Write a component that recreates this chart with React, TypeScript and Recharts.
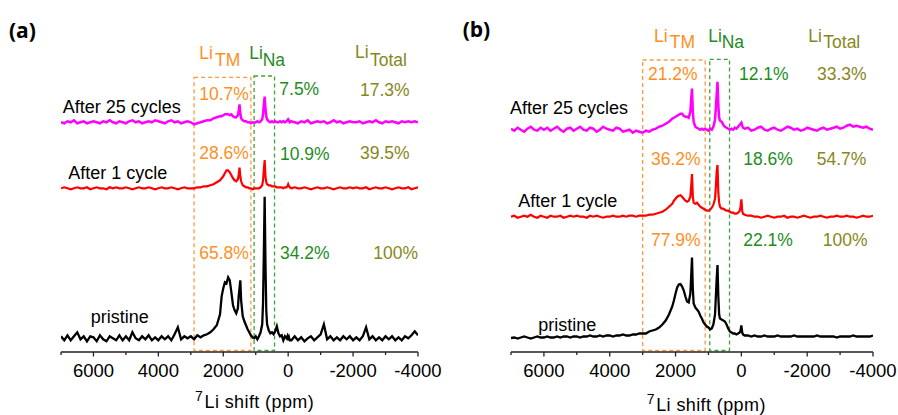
import React from 'react';
import { LineChart, Line, XAxis, YAxis, ReferenceArea } from 'recharts';

// chemical shift grid (ppm)
const PPM = [
  7000, 6900, 6800, 6700, 6600, 6500, 6400, 6300, 6200, 6100,
  6000, 5900, 5800, 5700, 5600, 5500, 5400, 5300, 5200, 5100,
  5000, 4900, 4800, 4700, 4600, 4500, 4400, 4300, 4200, 4100,
  4000, 3900, 3800, 3700, 3600, 3500, 3400, 3300, 3200, 3100,
  3000, 2900, 2800, 2700, 2600, 2500, 2400, 2300, 2200, 2100,
  2050, 2000, 1950, 1900, 1850, 1800, 1750, 1700, 1650, 1600,
  1550, 1525, 1500, 1475, 1450, 1400, 1350, 1300, 1250, 1200,
  1150, 1100, 1050, 1000, 950, 900, 850, 800, 775, 750,
  725, 700, 675, 650, 600, 550, 500, 450, 400, 350,
  300, 250, 200, 150, 100, 50, 25, 0, -25, -50,
  -100, -200, -300, -400, -500, -600, -700, -800, -900, -1000,
  -1100, -1200, -1300, -1400, -1500, -1600, -1700, -1800, -1900, -2000,
  -2100, -2200, -2300, -2400, -2500, -2600, -2700, -2800, -2900, -3000,
  -3100, -3200, -3300, -3400, -3500, -3600, -3700, -3800, -3900, -4000,
];

// ---- panel (a) intensities (arb. units) ----
const A_CYCLE25 = [
  0, -1, 1, 0, 2, -1, 0, 1, -1, 0,
  1, 0, -1, 1, 0, 2, 0, -1, 1, 0,
  -1, 1, 2, 0, 1, -1, 0, 1, 0, 2,
  1, 0, -1, 1, 2, 0, 1, -1, 0, 1,
  0, -2, -1, 0, 1, 2, 2, 4, 5, 6,
  6, 7, 8, 8, 8, 7, 8, 6, 5, 5,
  7, 11, 18, 9, 4, 2, 1, 1, 0, 0,
  -1, 0, -0.5, 0, 1, 0, 1, 3, 8, 18,
  25.6, 14, 6, 3, 1, 0, 1, 0, 1, 0,
  0, 1, 0, 1, 0, 1, 2, 3, 2, 0,
  1, 0, -1, 1, 0, 2, -1, 0, 1, 0,
  1, -1, 0, 2, 0, 1, -1, 0, 1, 0,
  0, 1, -1, 0, 1, 0, 2, 0, -1, 1,
  0, 1, 0, -1, 1, 0, 1, 0, 1, 0,
];
const A_CYCLE1 = [
  0, 1, 0, -1, 0, 1, 0, 0, 1, -1,
  0, 1, 0, 0, -1, 1, 0, 1, 0, 0,
  1, 0, -1, 0, 1, 0, 0, 1, 0, -1,
  0, 1, 0, 0, 1, 0, -1, 0, 1, 0,
  0, 0, 1, 1, 2, 2, 3, 4, 6, 8,
  10, 12, 15, 18, 18, 16, 13, 10, 8, 7,
  9, 13, 20.6, 12, 7, 3, 2, 1, 1, 0,
  0, -1, 0, 0, 0, 0, 1, 3, 8, 18,
  28.3, 12, 6, 4, 3, 3, 2, 2, 2, 1,
  1, 1, 1, 0, 1, 1, 2, 4, 2, 1,
  0, 1, 0, 0, 1, 0, -1, 0, 1, 0,
  0, 1, 0, -1, 0, 1, 0, 0, 1, 0,
  1, 0, 0, 1, -1, 0, 1, 0, 0, 1,
  0, -1, 0, 1, 0, 0, 1, -1, 0, 1,
];
const A_PRISTINE = [
  2, -2, 3, -2, 2, 6, -1, 2, -3, 2,
  1, -3, 3, -1, -3, 2, 0, -2, 3, -2,
  2, -2, 6, 0, -2, 2, -1, 3, -2, 1,
  -2, 2, -1, 2, -2, 4, 11, -1, 2, 0,
  2, -1, 3, 1, 3, 4, 6, 9, 13, 24,
  42, 50, 56, 55, 61, 58, 46, 33, 28, 25,
  30, 42, 50, 58, 38, 22, 17, 13, 9, 6,
  3, 1, 0, 2, -1, 2, 6, 14, 35, 85,
  141.6, 75, 28, 14, 8, 5, 6, 4, 7, 12,
  5, 2, 3, -2, 2, 0, 2, -2, 1, -2,
  -2, 2, -2, 1, -3, 0, 2, -2, 1, 4,
  14, -1, 2, -2, 1, -2, 2, -1, 2, -2,
  1, -2, 2, 11, -1, 2, -2, 1, -2, 2,
  -1, 2, -2, 1, -2, 2, 0, 3, 7, 3,
];

// ---- panel (b) intensities (arb. units) ----
const B_CYCLE25 = [
  1, -1, 2, 0, -2, 1, 3, 0, -1, 2,
  0, 2, -1, 1, 3, 0, -2, 1, 2, -1,
  1, 3, 0, -1, 2, 1, -2, 0, 3, 1,
  0, -1, 2, 1, -2, -1, 0, -3, -1, -2,
  -3, -1, -2, 0, 1, 3, 4, 6, 8, 11,
  12, 13, 14, 15, 16, 16, 14, 13, 13, 12,
  18, 30, 41.2, 18, 8, 3, 2, 1, 0, 1,
  0, 1, 0, -1, 1, 0, 3, 10, 22, 35,
  47.8, 24, 12, 9, 8, 5, 3, 2, 1, 0,
  1, 0, 2, 1, 3, 5, 6, 7, 4, 2,
  1, 2, -1, 0, 2, 3, 0, -1, 1, 2,
  0, -1, 1, 3, 2, 0, 1, -1, 0, 2,
  1, 0, -1, 1, 2, 0, 1, 2, 3, 1,
  2, 4, 5, 3, 4, 3, 2, 3, 1, 0,
];
const B_CYCLE1 = [
  0, 1, -1, 0, 1, 0, 2, 0, -1, 1,
  0, -1, 1, 0, 0, 1, -1, 0, 1, 0,
  1, 0, 0, -1, 1, 0, 1, 0, -1, 0,
  0, 1, 0, 0, 1, 0, 1, 1, 0, 1,
  1, 1, 2, 2, 3, 4, 5, 7, 10, 13,
  16, 18, 20, 21, 21.5, 20, 18, 16, 15, 16,
  20, 30, 42.7, 20, 14, 13, 14, 12, 10, 9,
  8, 7, 6, 6, 7, 9, 12, 18, 30, 45,
  51.7, 24, 14, 10, 8, 8, 7, 6, 6, 5,
  4, 4, 3, 3, 4, 6, 10, 17.4, 6, 3,
  2, 1, 1, 0, 0, -1, 0, 1, 0, -1,
  0, 0, 1, -1, 0, 0, -1, 0, 1, 0,
  -1, 0, 0, 1, 0, -1, 0, 0, 1, 0,
  0, 1, 0, 0, -1, 0, 1, 0, 0, 1,
];
const B_PRISTINE = [
  -1.5, -1, -2, -1, 0, -1, -2, -1, 0, -1,
  -1, 0, -1, -1, 0, -1, 0, 0, -1, 0,
  0, -1, 0, 0, 1, 0, 0, 1, 0, 1,
  1, 0, 1, 1, 2, 1, 1, 2, 2, 3,
  3, 3, 5, 6, 7, 9, 12, 16, 22, 30,
  36, 43, 49, 52, 52.5, 50, 46, 40, 35, 34,
  43, 60, 79, 48, 33, 29, 27, 25, 21, 18,
  14, 12, 10, 9, 7, 8, 12, 22, 40, 58,
  71.5, 40, 22, 18, 17, 16, 15, 12, 8, 5,
  4, 3, 3, 2, 3, 4, 6, 11, 4, 2,
  1, 1, 0, 1, 0, 0, 1, 0, 0, 0,
  1, 0, 0, 0, 0, 1, 0, 0, 0, 0,
  0, 0, 1, 0, 0, 0, 0, 0, -1, 0,
  0, 0, 0, 1, 0, 0, 0, 0, 0, 1,
];

// stacking offsets (arb. units)
const A_OFFSETS = { c25: 229.7, c1: 163.7, pr: 13.7 };
const B_OFFSETS = { c25: 222.3, c1: 135.3, pr: 15.5 };

// integration windows (ppm)
const A_TM = [2900, 1150];
const A_NA = [1050, 420];
const B_TM = [3000, 1100];
const B_NA = [960, 360];

const TICKS = [7000, 6000, 5000, 4000, 3000, 2000, 1000, 0, -1000, -2000, -3000, -4000];

const ORANGE = '#FF8F24';
const ORANGE_BOX = '#FF9A3C';
const GREEN = '#1E8C1E';
const GREEN_BOX = '#3DA23D';
const OLIVE = '#878720';
const FONT = '"Liberation Sans", Arial, sans-serif';

const build = (vals: number[], off: number) => PPM.map((p, i) => ({ ppm: p, v: vals[i] + off }));

const Tick = (props: any) => {
  const { x, y, payload } = props;
  const v = payload.value;
  const major = v % 2000 === 0;
  return (
    <g>
      <line x1={x} x2={x} y1={y} y2={y + (major ? 4.5 : 3)} stroke="#222" strokeWidth={1.3} />
      {major && (
        <text x={x} y={y + 24.5} textAnchor="middle" fontFamily={FONT} fontSize={18.5} fill="#000">
          {v}
        </text>
      )}
    </g>
  );
};

const Panel = ({ c25, c1, pr, off, tm, na, width, rightMargin }: any) => (
  <LineChart width={width} height={415} margin={{ top: 52, right: rightMargin, left: 61, bottom: 0 }}>
    <XAxis
      dataKey="ppm"
      type="number"
      domain={[-4000, 7000]}
      reversed
      ticks={TICKS}
      interval={0}
      tick={<Tick />}
      tickLine={false}
      tickSize={0}
      tickMargin={0}
      height={63}
      axisLine={{ stroke: '#222', strokeWidth: 1.6 }}
      allowDataOverflow
    />
    <YAxis hide type="number" domain={[0, 300]} allowDataOverflow />
    <ReferenceArea x1={tm[0]} x2={tm[1]} y1={1.5} y2={tm[2]} fill="none" stroke={ORANGE_BOX} strokeWidth={1.3} strokeDasharray="4 3" />
    <ReferenceArea x1={na[0]} x2={na[1]} y1={1.5} y2={na[2]} fill="none" stroke={GREEN_BOX} strokeWidth={1.3} strokeDasharray="4 3" />
    <Line data={build(pr, off.pr)} dataKey="v" type="linear" dot={false} stroke="#000" strokeWidth={2.3} isAnimationActive={false} />
    <Line data={build(c1, off.c1)} dataKey="v" type="linear" dot={false} stroke="#FF0000" strokeWidth={2.2} isAnimationActive={false} />
    <Line data={build(c25, off.c25)} dataKey="v" type="linear" dot={false} stroke="#FF00FF" strokeWidth={2.5} isAnimationActive={false} />
  </LineChart>
);

const T = ({ x, y, c = '#000', s = 17.5, f = FONT, w = 'normal', ls = 0, children }: any) => (
  <text x={x} y={y} fill={c} fontSize={s} fontFamily={f} fontWeight={w} letterSpacing={ls}>{children}</text>
);

export default function App() {
  return (
    <div style={{ position: 'absolute', left: 0, top: 0, width: 898, height: 415, background: '#fff', overflow: 'hidden' }}>
      <div style={{ position: 'absolute', left: 0, top: 0 }}>
        <Panel c25={A_CYCLE25} c1={A_CYCLE1} pr={A_PRISTINE} off={A_OFFSETS}
          tm={[A_TM[0], A_TM[1], 274.7]} na={[A_NA[0], A_NA[1], 276]} width={450} rightMargin={32} />
      </div>
      <div style={{ position: 'absolute', left: 450, top: 0 }}>
        <Panel c25={B_CYCLE25} c1={B_CYCLE1} pr={B_PRISTINE} off={B_OFFSETS}
          tm={[B_TM[0], B_TM[1], 292]} na={[B_NA[0], B_NA[1], 292.7]} width={448} rightMargin={25} />
      </div>
      <svg width={898} height={415} style={{ position: 'absolute', left: 0, top: 0, pointerEvents: 'none' }}>
        {/* panel (a) */}
        <T x={9} y={38.3} s={21} w="bold" f='"Open Sans", Arial, sans-serif'>(a)</T>
        <T x={199.3} y={59.3} c={ORANGE}>Li</T>
        <T x={215} y={66} c={ORANGE}>TM</T>
        <T x={249.3} y={59} c={GREEN}>Li</T>
        <T x={262.7} y={66} c={GREEN}>Na</T>
        <T x={355} y={58.3} c={OLIVE}>Li</T>
        <T x={370} y={66} c={OLIVE}>Total</T>
        <T x={199.3} y={100} c={ORANGE}>10.7%</T>
        <T x={279.3} y={95} c={GREEN}>7.5%</T>
        <T x={360} y={95.5} c={OLIVE}>17.3%</T>
        <T x={199.3} y={159.3} c={ORANGE}>28.6%</T>
        <T x={280} y={160} c={GREEN}>10.9%</T>
        <T x={360} y={158.5} c={OLIVE}>39.5%</T>
        <T x={199.3} y={259.3} c={ORANGE}>65.8%</T>
        <T x={280} y={259.3} c={GREEN}>34.2%</T>
        <T x={373.3} y={259} c={OLIVE}>100%</T>
        <T x={62.7} y={112.7} s={18}>After 25 cycles</T>
        <T x={68.3} y={179.3} s={18}>After 1 cycle</T>
        <T x={90.7} y={322.7} s={18}>pristine</T>
        <T x={195} y={400.7} s={14}>7</T>
        <T x={204.5} y={407.5} s={18} ls={0.4}>Li shift (ppm)</T>
        {/* panel (b) */}
        <T x={462.7} y={36.6} s={21} w="bold" f='"Open Sans", Arial, sans-serif'>(b)</T>
        <T x={654} y={41.7} c={ORANGE}>Li</T>
        <T x={669.7} y={48.3} c={ORANGE}>TM</T>
        <T x={708.3} y={41.7} c={GREEN}>Li</T>
        <T x={721.7} y={48.3} c={GREEN}>Na</T>
        <T x={808.3} y={41.7} c={OLIVE}>Li</T>
        <T x={823.3} y={48.3} c={OLIVE}>Total</T>
        <T x={648} y={80} c={ORANGE}>21.2%</T>
        <T x={739} y={80} c={GREEN}>12.1%</T>
        <T x={817} y={80} c={OLIVE}>33.3%</T>
        <T x={651} y={165} c={ORANGE}>36.2%</T>
        <T x={743.3} y={165} c={GREEN}>18.6%</T>
        <T x={816.7} y={165} c={OLIVE}>54.7%</T>
        <T x={651} y={245.7} c={ORANGE}>77.9%</T>
        <T x={743.3} y={245.7} c={GREEN}>22.1%</T>
        <T x={822.7} y={245.7} c={OLIVE}>100%</T>
        <T x={510} y={114} s={18}>After 25 cycles</T>
        <T x={518.3} y={207.3} s={18}>After 1 cycle</T>
        <T x={538.3} y={330.7} s={18}>pristine</T>
        <T x={646.7} y={404} s={14}>7</T>
        <T x={656.2} y={410.7} s={18} ls={0.4}>Li shift (ppm)</T>
      </svg>
    </div>
  );
}
